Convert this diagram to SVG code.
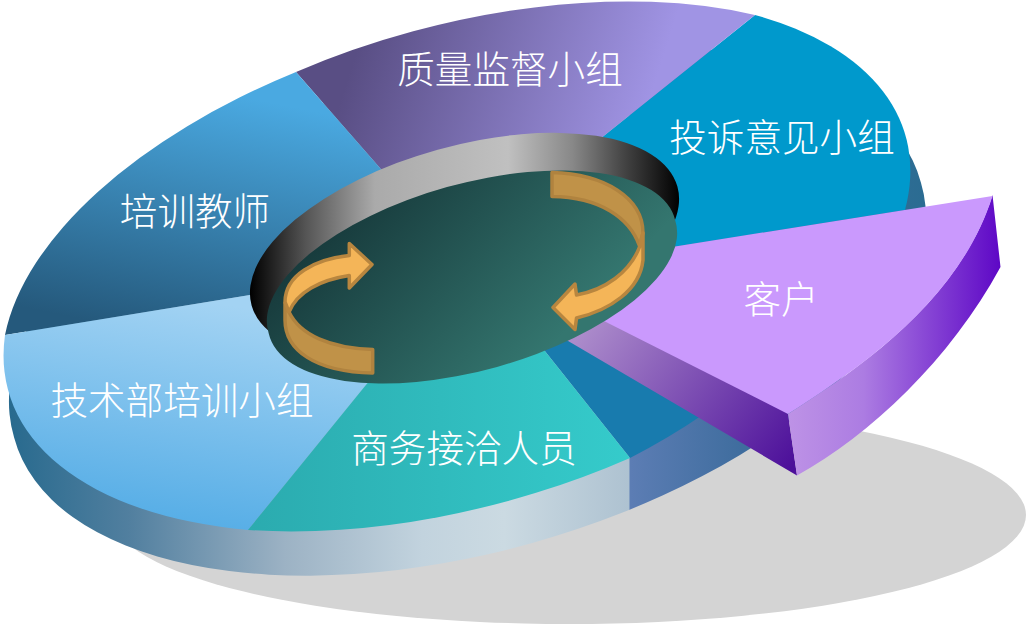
<svg xmlns="http://www.w3.org/2000/svg" width="1026" height="624" viewBox="0 0 1026 624">
<style>
text{font-family:"Noto Sans CJK SC","Noto Sans CJK JP",sans-serif;font-size:37.600px;font-weight:300;fill:#fff;text-anchor:middle}
.lit{fill:#F4B558;stroke:#B8863F;stroke-width:3.500;stroke-linejoin:round}
.dim{fill:#C09248;stroke:#B0833F;stroke-width:3.500;stroke-linejoin:round}
</style>
<defs>
<linearGradient id="wall" gradientUnits="userSpaceOnUse" x1="10" y1="0" x2="925" y2="0">
<stop offset="0" stop-color="#286a8e"/><stop offset=".13" stop-color="#517f9f"/><stop offset=".3" stop-color="#9cb2c4"/><stop offset=".45" stop-color="#c2d3de"/><stop offset=".54" stop-color="#cbdae2"/><stop offset=".676" stop-color="#aec2d1"/><stop offset=".678" stop-color="#5c7db4"/><stop offset=".8" stop-color="#3f6d9e"/><stop offset="1" stop-color="#2b6c92"/>
</linearGradient>
<linearGradient id="g-train" gradientUnits="userSpaceOnUse" x1="210" y1="90" x2="160" y2="335"><stop offset="0" stop-color="#4AA9E1"/><stop offset="1" stop-color="#25597C"/></linearGradient>
<linearGradient id="g-tech" gradientUnits="userSpaceOnUse" x1="200" y1="300" x2="160" y2="525"><stop offset="0" stop-color="#A3D3F3"/><stop offset="1" stop-color="#55ADE6"/></linearGradient>
<linearGradient id="g-biz" gradientUnits="userSpaceOnUse" x1="250" y1="0" x2="630" y2="0"><stop offset="0" stop-color="#2BABAF"/><stop offset="1" stop-color="#35CBCB"/></linearGradient>
<linearGradient id="g-qual" gradientUnits="userSpaceOnUse" x1="360" y1="40" x2="640" y2="130"><stop offset="0" stop-color="#594E84"/><stop offset="1" stop-color="#A094E4"/></linearGradient>
<linearGradient id="g-ring" gradientUnits="userSpaceOnUse" x1="250" y1="0" x2="680" y2="0"><stop offset="0" stop-color="#000"/><stop offset=".13" stop-color="#555"/><stop offset=".29" stop-color="#aaa"/><stop offset=".6" stop-color="#c0c0c0"/><stop offset=".75" stop-color="#888"/><stop offset=".87" stop-color="#444"/><stop offset="1" stop-color="#000"/></linearGradient>
<linearGradient id="g-hole" gradientUnits="userSpaceOnUse" x1="335" y1="205" x2="520" y2="380"><stop offset="0" stop-color="#16383A"/><stop offset="1" stop-color="#34766F"/></linearGradient>
<linearGradient id="g-cw1" gradientUnits="userSpaceOnUse" x1="590" y1="320" x2="790" y2="470"><stop offset="0" stop-color="#AC8CCB"/><stop offset="1" stop-color="#4C0F9A"/></linearGradient>
<linearGradient id="g-cw2" gradientUnits="userSpaceOnUse" x1="790" y1="0" x2="1000" y2="0"><stop offset="0" stop-color="#BD92E6"/><stop offset=".35" stop-color="#AC7CE2"/><stop offset="1" stop-color="#5E08C6"/></linearGradient>
</defs>
<g id="shadow"><ellipse cx="569" cy="515" rx="457" ry="109" fill="#D4D4D4"/></g>
<g id="base"><path d="M14.100 437.500A471 240 -15.700 1 1 920.900 182.500A471 240 -15.700 1 1 14.100 437.500Z" fill="url(#wall)"/></g>
<g id="connectors"></g>
<g id="node-blue"><path d="M470 257L630 458A468 242 -15.700 0 0 790 340Z" fill="#187BAE"/></g>
<g id="node-tousu"><path d="M470 243L755 15A468 242 -15.700 0 1 905 210L672 247L470 279Z" fill="#0099CC"/><text x="782" y="151">投诉意见小组</text></g>
<g id="node-zhiliang"><path d="M470 271L296 72A468 242 -15.700 0 1 755 15L470 243Z" fill="url(#g-qual)"/><text x="510" y="83">质量监督小组</text></g>
<g id="node-peixun"><path d="M470 271L250 295L5 335A468 242 -15.700 0 1 296 72Z" fill="url(#g-train)"/><text x="195" y="225">培训教师</text></g>
<g id="node-jishu"><path d="M470 257L248 530A472 246 -15.700 0 1 5 335L250 295Z" fill="url(#g-tech)"/><text x="182" y="414">技术部培训小组</text></g>
<g id="node-shangwu"><path d="M470 257L630 458A468 242 -15.700 0 1 248 530Z" fill="url(#g-biz)"/><text x="464" y="462">商务接洽人员</text></g>
<g id="node-kehu">
<path d="M563 338L640 300L788 414L797 475.500Z" fill="url(#g-cw1)"/>
<path d="M788 414C860 368 960 300 992.500 195L1000.500 267C950 360 870 435 797 475.500Z" fill="url(#g-cw2)"/>
<path d="M672 247L992.500 196C960 300 860 368 788 414L598 318L620 290Z" fill="#CA99FD"/>
<text x="781" y="313">客户</text>
</g>
<g id="node-hub">
<path d="M251.600 305.400A221 100 -15.600 1 1 677.400 186.600A221 100 -15.600 1 1 251.600 305.400Z" fill="url(#g-ring)"/>
<path d="M268.800 333.700A211 91.600 -15.600 1 1 675.200 220.300A211 91.600 -15.600 1 1 268.800 333.700Z" fill="url(#g-hole)"/>
<path class="dim" d="M285 303L285 320C285 350 315 372 372.700 373L372.700 349.500C330 348 300 335 289 312Z"/>
<path class="lit" d="M349.300 255.500L349.300 243.500L372 264.500L349.300 288L349.300 275.500C320 280 297 292 289 312L285 302C285 275 315 259 349.300 255.500Z"/>
<path class="dim" d="M552 172.500L552 196.500C600 197 630 218 639.500 246L643 233C643 198 605 174 552 172.500Z"/>
<path class="lit" d="M639.500 247L643 233L643 260C640 290 610 310 576.500 318L575 329.500L553 307.500L575 284L576.500 295C605 290 630 272 639.500 247Z"/>
</g>
</svg>
